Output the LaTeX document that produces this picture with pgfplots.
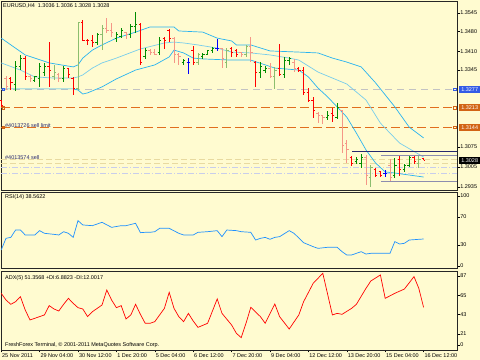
\documentclass[border=0pt]{standalone}
\usepackage{pgfplots}
\usepackage{pgfplotstable}
\pgfplotsset{compat=1.18}
\usepackage{fontspec}
\setmainfont{Liberation Sans}
\definecolor{bg}{RGB}{255,251,208}
\definecolor{cred}{RGB}{255,0,0}
\definecolor{csal}{RGB}{245,150,135}
\definecolor{cgrn}{RGB}{0,140,0}
\definecolor{clgr}{RGB}{140,190,110}
\definecolor{cblu}{RGB}{0,0,255}
\definecolor{band}{RGB}{40,180,240}
\definecolor{bandm}{RGB}{120,205,235}
\definecolor{lvlor}{RGB}{225,110,30}
\definecolor{lvlgr}{RGB}{195,195,195}
\definecolor{navyl}{RGB}{40,40,110}
\definecolor{slate}{RGB}{140,140,175}
\definecolor{beige}{RGB}{232,218,160}
\definecolor{lav}{RGB}{200,205,235}
\definecolor{rsic}{RGB}{30,144,255}
\definecolor{boxblue}{RGB}{50,90,230}
\definecolor{boxor}{RGB}{210,100,20}
\pgfdeclareplotmark{ltick}{\pgfpathmoveto{\pgfpoint{-\pgfplotmarksize}{0pt}}\pgfpathlineto{\pgfpoint{0pt}{0pt}}\pgfusepathqstroke}
\pgfdeclareplotmark{rtick}{\pgfpathmoveto{\pgfpoint{0pt}{0pt}}\pgfpathlineto{\pgfpoint{\pgfplotmarksize}{0pt}}\pgfusepathqstroke}
\newcommand{\tf}{\fontsize{5.5}{6}\selectfont}
\newcommand{\ohlc}[2]{%
  \addplot[#1, only marks, mark=rtick, mark size=1.9, line width=1,
    error bars/.cd, y dir=both, y explicit, error mark=none,
    error bar style={#1, line width=1}]
    table[x=i, y=c, y error plus expr=\thisrow{h}-\thisrow{c}, y error minus expr=\thisrow{c}-\thisrow{l}] {#2};
  \addplot[#1, only marks, mark=ltick, mark size=1.9, line width=1] table[x=i, y=o] {#2};
}
\pgfplotsset{
  mt/.style={scale only axis, anchor=north west, xmin=-1.0417, xmax=93.958,
    axis line style={black!85, line width=0.9},
    tick align=outside, major tick length=2.5bp,
    tick style={black, line width=0.5},
    ytick pos=right, yticklabel pos=right,
    yticklabel style={font=\tf, anchor=west, inner sep=0.6bp},
    xticklabel style={font=\tf},
    clip mode=individual, axis background/.style={fill=bg}},
}
\pgfplotstableread{
i o h l c
-1 1.3237 1.3240 1.3216 1.3219
1 1.3314 1.3321 1.3275 1.3303
4 1.3387 1.3394 1.3310 1.3324
9 1.3359 1.3443 1.3286 1.3345
13 1.3349 1.3352 1.3317 1.3328
14 1.3317 1.3321 1.3258 1.3279
16 1.3513 1.3520 1.3447 1.3450
17 1.3450 1.3454 1.3433 1.3447
18 1.3447 1.3468 1.3426 1.3440
28 1.3506 1.3510 1.3363 1.3370
33 1.3454 1.3461 1.3419 1.3447
34 1.3482 1.3489 1.3443 1.3457
39 1.3415 1.3429 1.3363 1.3370
47 1.3419 1.3426 1.3391 1.3408
48 1.3412 1.3419 1.3391 1.3401
52 1.3373 1.3377 1.3286 1.3335
57 1.3352 1.3436 1.3324 1.3331
61 1.3352 1.3356 1.3338 1.3345
62 1.3345 1.3356 1.3258 1.3265
63 1.3265 1.3282 1.3233 1.3240
64 1.3240 1.3251 1.3177 1.3202
68 1.3191 1.3212 1.3163 1.3184
72 1.3040 1.3044 1.3009 1.3019
77 1.2995 1.3002 1.2970 1.2977
78 1.2988 1.2991 1.2970 1.2974
82 1.3030 1.3047 1.2974 1.2995
85 1.3040 1.3044 1.3016 1.3026
87 1.3036 1.3036 1.3028 1.3028
}\tred
\pgfplotstableread{
i o h l c
0 1.3317 1.3324 1.3275 1.3289
5 1.3324 1.3328 1.3303 1.3314
11 1.3328 1.3335 1.3303 1.3314
21 1.3492 1.3528 1.3475 1.3485
22 1.3485 1.3510 1.3461 1.3478
25 1.3478 1.3478 1.3454 1.3468
30 1.3415 1.3419 1.3398 1.3408
31 1.3408 1.3419 1.3398 1.3401
35 1.3457 1.3461 1.3370 1.3398
36 1.3401 1.3405 1.3363 1.3394
45 1.3419 1.3422 1.3352 1.3384
49 1.3405 1.3408 1.3391 1.3401
51 1.3429 1.3461 1.3373 1.3405
55 1.3352 1.3370 1.3317 1.3321
60 1.3373 1.3384 1.3338 1.3352
65 1.3194 1.3198 1.3159 1.3184
66 1.3184 1.3187 1.3156 1.3180
70 1.3202 1.3205 1.3054 1.3082
71 1.3086 1.3100 1.3019 1.3065
75 1.3040 1.3047 1.2942 1.2977
80 1.3012 1.3033 1.2953 1.2967
}\tsal
\pgfplotstableread{
i o h l c
2 1.3293 1.3377 1.3272 1.3359
3 1.3359 1.3398 1.3345 1.3387
6 1.3310 1.3324 1.3303 1.3321
7 1.3314 1.3370 1.3286 1.3359
8 1.3338 1.3370 1.3324 1.3359
12 1.3317 1.3359 1.3303 1.3352
19 1.3443 1.3475 1.3433 1.3468
23 1.3457 1.3478 1.3443 1.3468
24 1.3464 1.3492 1.3457 1.3485
26 1.3468 1.3506 1.3457 1.3496
27 1.3496 1.3549 1.3475 1.3506
29 1.3391 1.3422 1.3384 1.3412
32 1.3408 1.3461 1.3398 1.3450
37 1.3373 1.3384 1.3363 1.3380
41 1.3391 1.3405 1.3384 1.3398
42 1.3401 1.3415 1.3398 1.3412
43 1.3412 1.3426 1.3405 1.3419
53 1.3335 1.3373 1.3317 1.3356
54 1.3345 1.3359 1.3335 1.3352
58 1.3331 1.3391 1.3317 1.3380
59 1.3380 1.3391 1.3363 1.3384
67 1.3177 1.3202 1.3170 1.3187
69 1.3180 1.3230 1.3173 1.3212
73 1.3023 1.3040 1.3016 1.3033
74 1.3019 1.3051 1.3002 1.3040
81 1.2974 1.3037 1.2967 1.3012
83 1.2995 1.3016 1.2988 1.3009
84 1.3012 1.3044 1.3005 1.3037
}\tgrn
\pgfplotstableread{
i o h l c
10 1.3324 1.3363 1.3310 1.3335
15 1.3279 1.3513 1.3275 1.3510
20 1.3468 1.3503 1.3415 1.3489
40 1.3370 1.3405 1.3363 1.3398
46 1.3373 1.3422 1.3352 1.3415
50 1.3398 1.3433 1.3391 1.3429
56 1.3321 1.3356 1.3279 1.3345
76 1.2967 1.3012 1.2935 1.3002
86 1.3019 1.3044 1.3002 1.3033
}\tlgr
\pgfplotstableread{
i o h l c
38 1.3373 1.3387 1.3331 1.3373
44 1.3419 1.3454 1.3412 1.3419
79 1.2981 1.2995 1.2970 1.2981
}\tblu
\begin{document}
\begin{tikzpicture}
\fill[bg] (0bp,0bp) rectangle (480bp,360bp);
% ---------------- main price panel
\begin{axis}[mt, at={(1bp,359bp)}, width=456bp, height=189bp,
  ymin=1.29245, ymax=1.35871, xtick=\empty,
  ytick={1.3545,1.3480,1.3410,1.3345,1.3075,1.3005,1.2935},
  yticklabels={1.3545,1.3480,1.3410,1.3345,1.3075,1.3005,1.2935}]
% level lines
\addplot[lvlgr, line width=0.9, dash pattern=on 7bp off 5bp] coordinates {(-1.0417,1.3277) (93.958,1.3277)};
\addplot[lvlor, line width=1, dash pattern=on 9bp off 4bp] coordinates {(-1.0417,1.3213) (93.958,1.3213)};
\addplot[lvlor, line width=1, dash pattern=on 9bp off 4bp] coordinates {(-1.0417,1.3144) (93.958,1.3144)};
\addplot[beige, line width=0.9, dash pattern=on 6bp off 3bp] coordinates {(-1.0417,1.3030) (93.958,1.3030)};
\addplot[beige, line width=0.9, dash pattern=on 6bp off 3bp] coordinates {(-1.0417,1.3019) (93.958,1.3019)};
\addplot[lav, line width=0.9, dash pattern=on 6bp off 2bp on 1bp off 2bp] coordinates {(-1.0417,1.3002) (93.958,1.3002)};
\addplot[lav, line width=0.9, dash pattern=on 6bp off 2bp on 1bp off 2bp] coordinates {(-1.0417,1.2984) (93.958,1.2984)};
% bands
\addplot[band, line width=0.7] coordinates {(-1,1.3457) (4,1.3398) (9,1.3370) (14,1.3356) (15,1.3363) (16,1.3387) (18,1.3415) (20,1.3433) (23,1.3457) (27,1.3478) (30,1.3496) (35,1.3496) (36,1.3482) (41,1.3478) (44,1.3457) (47,1.3447) (48,1.3433) (51,1.3433) (55,1.3412) (61,1.3408) (65,1.3405) (68,1.3387) (71,1.3373) (74,1.3356) (77,1.3300) (81,1.3216) (84,1.3145) (87,1.3107)};
\addplot[bandm, line width=0.7] coordinates {(-1,1.3370) (3,1.3345) (6,1.3321) (10,1.3317) (14,1.3317) (15,1.3321) (16,1.3328) (18,1.3352) (20,1.3370) (23,1.3387) (28,1.3419) (33,1.3440) (35,1.3443) (37,1.3440) (40,1.3433) (44,1.3422) (47,1.3408) (51,1.3405) (55,1.3398) (59,1.3387) (61,1.3380) (65,1.3338) (71,1.3296) (75,1.3240) (78,1.3159) (82,1.3089) (87,1.3040)};
\addplot[band, line width=0.7] coordinates {(-1,1.3279) (14,1.3279) (15,1.3275) (16,1.3261) (17,1.3265) (20,1.3286) (23,1.3314) (27,1.3345) (31,1.3363) (34,1.3391) (35,1.3415) (37,1.3405) (39,1.3387) (41,1.3384) (47,1.3380) (51,1.3380) (56,1.3352) (61,1.3345) (63,1.3321) (65,1.3282) (67,1.3251) (71,1.3180) (73,1.3124) (75,1.3065) (77,1.3019) (79,1.2988) (81,1.2984) (87,1.2970)};
% bars
\ohlc{csal}{\tsal}
\ohlc{clgr}{\tlgr}
\ohlc{cred}{\tred}
\ohlc{cgrn}{\tgrn}
\ohlc{cblu}{\tblu}
% trend lines
\addplot[navyl, line width=1] coordinates {(72.1,1.3061) (93.958,1.3061)};
\addplot[slate, line width=0.9] coordinates {(78.1,1.3047) (93.958,1.3047)};
\addplot[slate, line width=0.9] coordinates {(78.1,1.2953) (93.958,1.2953)};
% order markers
\addplot[boxblue, only marks, mark=square, mark size=1.1, line width=0.6] coordinates {(-0.62,1.3277) (93.5,1.3277)};
\addplot[boxor, only marks, mark=square, mark size=1.1, line width=0.6] coordinates {(-0.62,1.3213) (-0.62,1.3144) (93.5,1.3213) (93.5,1.3144)};
% price boxes
\node[fill=boxblue, text=white, font=\tf, inner sep=0pt, minimum width=21bp, minimum height=7bp, anchor=west, xshift=2bp] at (axis cs:93.958,1.3277) {1.3277};
\node[fill=boxor, text=white, font=\tf, inner sep=0pt, minimum width=21bp, minimum height=7bp, anchor=west, xshift=2bp] at (axis cs:93.958,1.3213) {1.3213};
\node[fill=boxor, text=white, font=\tf, inner sep=0pt, minimum width=21bp, minimum height=7bp, anchor=west, xshift=2bp] at (axis cs:93.958,1.3144) {1.3144};
\node[fill=black, text=white, font=\tf, inner sep=0pt, minimum width=21bp, minimum height=7bp, anchor=west, xshift=2bp] at (axis cs:93.958,1.3028) {1.3028};
\end{axis}
% ---------------- RSI panel
\begin{axis}[mt, at={(1bp,168bp)}, width=456bp, height=76bp,
  ymin=-2.86, ymax=105.7, xtick=\empty,
  ytick={0,30,70,100}, yticklabels={0,30,70,100}]
\addplot[rsic, line width=0.7] coordinates {(-1,22.9) (0,39.5) (1,40.9) (2,51.4) (3,51.4) (4,44.3) (6,44.3) (7,50.5) (8,46.7) (10,45.2) (11,44.3) (12,49.0) (13,46.7) (14,40.9) (15,64.8) (16,58.6) (18,57.6) (20,62.4) (22,55.2) (24,57.6) (25,57.6) (27,61.0) (28,47.6) (29,48.1) (30,48.1) (31,49.0) (32,53.8) (34,53.8) (36,46.7) (37,44.3) (39,44.3) (40,48.1) (42,49.0) (44,50.5) (45,41.9) (46,51.4) (48,50.5) (49,49.0) (51,48.1) (52,37.1) (53,39.5) (54,40.9) (55,38.1) (56,40.9) (57,41.9) (59,50.5) (60,46.7) (62,33.3) (64,27.6) (65,25.2) (67,26.7) (69,26.7) (70,20.5) (71,15.7) (72,15.7) (74,20.5) (75,17.1) (76,18.1) (80,18.1) (81,34.8) (82,31.4) (83,32.4) (84,37.1) (86,38.1) (87,38.56)};
\end{axis}
% ---------------- ADX panel
\begin{axis}[mt, at={(1bp,89bp)}, width=456bp, height=79bp,
  ymin=2.84, ymax=92.7,
  ytick={8.5,21,43,65,87}, yticklabels={0,21,43,65,87},
  xtick={-1,7,...,87}, xtick pos=left,
  xticklabels={25 Nov 2011,29 Nov 04:00,30 Nov 12:00,1 Dec 20:00,5 Dec 04:00,6 Dec 12:00,7 Dec 20:00,9 Dec 04:00,12 Dec 12:00,13 Dec 20:00,15 Dec 04:00,16 Dec 12:00},
  xticklabel style={anchor=north west, inner sep=0.5bp, xshift=0.3bp}]
\addplot[red, line width=0.7] coordinates {(-1,67.3) (0,59.7) (1,54.8) (2,57.8) (3,63.5) (4,48.4) (5,37.0) (6,38.9) (7,40.8) (8,42.7) (9,53.3) (10,49.5) (11,47.2) (12,54.8) (13,61.6) (14,55.9) (15,51.0) (16,49.5) (17,40.8) (18,46.4) (20,54.0) (21,71.1) (22,59.7) (23,51.0) (24,53.3) (25,38.1) (26,42.7) (27,54.8) (28,43.4) (29,33.2) (30,33.2) (31,35.1) (33,50.2) (34,68.4) (35,50.2) (36,40.8) (37,35.1) (38,44.5) (39,35.8) (40,28.6) (42,33.2) (44,60.9) (45,44.5) (47,31.3) (48,21.8) (49,16.9) (50,33.2) (51,51.4) (53,40.8) (54,33.2) (56,55.2) (57,40.8) (59,26.7) (61,42.7) (62,57.8) (64,78.7) (66,90.1) (68,42.7) (69,44.5) (70,43.4) (72,50.2) (73,54.8) (75,73.0) (76,81.3) (78,88.2) (79,61.6) (81,67.3) (83,72.2) (85,86.3) (86,73.0) (87,51.36)};
\end{axis}
% ---------------- texts
\node[anchor=west, inner sep=0pt, font=\tf] at (3bp,354.3bp) {EURUSD,H4\ \ 1.3036 1.3036 1.3028 1.3028};
\node[anchor=west, inner sep=0pt, font=\tf, text=navyl] at (5bp,234.3bp) {\#4013726 sell limit};
\node[anchor=west, inner sep=0pt, font=\tf, text=navyl] at (5bp,202bp) {\#4013574 sell};
\node[anchor=west, inner sep=0pt, font=\tf] at (5bp,163bp) {RSI(14) 38.5622};
\node[anchor=west, inner sep=0pt, font=\tf] at (5bp,82.3bp) {ADX(5) 51.3568 +DI:6.8823 -DI:12.0017};
\node[anchor=west, inner sep=0pt, font=\tf] at (5bp,15bp) {FreshForex Terminal, © 2001-2011 MetaQuotes Software Corp.};
\pgfresetboundingbox
\path[use as bounding box] (0bp,0bp) rectangle (480bp,360bp);
\end{tikzpicture}
\end{document}
